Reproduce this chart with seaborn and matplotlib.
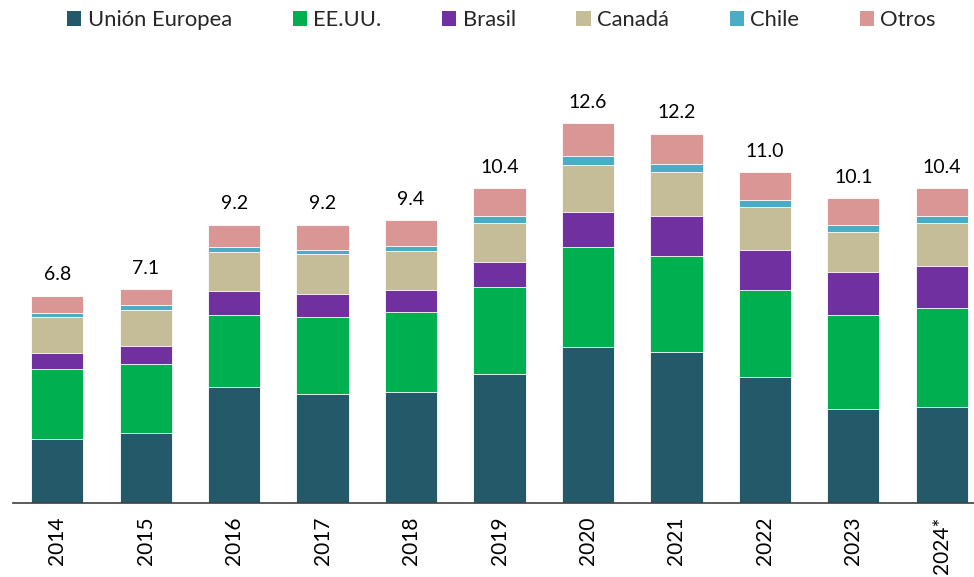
import numpy as np
import seaborn as sns
import matplotlib.pyplot as plt
from matplotlib.patches import Patch

# Data
years = ["2014", "2015", "2016", "2017", "2018", "2019", "2020", "2021", "2022", "2023", "2024*"]
union_europea = [2.09, 2.31, 3.82, 3.60, 3.65, 4.24, 5.16, 4.97, 4.17, 3.11, 3.15]
ee_uu = [2.32, 2.27, 2.38, 2.55, 2.67, 2.89, 3.30, 3.19, 2.87, 3.10, 3.28]
brasil = [0.54, 0.61, 0.80, 0.76, 0.72, 0.84, 1.17, 1.33, 1.33, 1.41, 1.41]
canada = [1.19, 1.19, 1.28, 1.32, 1.29, 1.30, 1.55, 1.46, 1.40, 1.33, 1.41]
chile = [0.13, 0.17, 0.17, 0.14, 0.17, 0.22, 0.30, 0.27, 0.24, 0.25, 0.25]
otros = [0.57, 0.51, 0.74, 0.83, 0.84, 0.91, 1.08, 0.99, 0.92, 0.87, 0.90]
totals = [6.8, 7.1, 9.2, 9.2, 9.4, 10.4, 12.6, 12.2, 11.0, 10.1, 10.4]

series_names = ["Unión Europea", "EE.UU.", "Brasil", "Canadá", "Chile", "Otros"]
series_values = [union_europea, ee_uu, brasil, canada, chile, otros]
colors = ["#235968", "#00B050", "#7030A0", "#C4BD97", "#4BACC6", "#DA9694"]

sns.set_theme(style="white")
plt.rcParams['font.family'] = ['Lato', 'DejaVu Sans']

fig = plt.figure(figsize=(9.74, 5.77), dpi=100)
# axes runs a little past the right edge of the figure (the last bar is cut like in the original)
ax = fig.add_axes([13 / 974, 74.5 / 577, 973 / 974, 442.5 / 577])

# Stacked bars: draw cumulative heights from the top layer down
cum = np.cumsum(np.array(series_values), axis=0)
for i in range(len(series_names) - 1, -1, -1):
    sns.barplot(x=years, y=cum[i], color=colors[i], saturation=1, width=0.59,
                edgecolor="white", linewidth=0.6, errorbar=None, ax=ax)

# Total labels
for i, t in enumerate(totals):
    ax.annotate(f"{t:.1f}", xy=(i, cum[-1][i]), xytext=(0, 9), textcoords="offset points",
                ha="center", va="bottom", fontsize=14, color="black")

ax.set_xlim(-0.5, 10.5)
ax.set_ylim(0, 14.65)
ax.set_yticks([])
ax.set_ylabel("")
ax.set_xlabel("")
for s in ["left", "top", "right"]:
    ax.spines[s].set_visible(False)
ax.spines["bottom"].set_color("#404040")
ax.spines["bottom"].set_linewidth(1.2)

ax.set_xticks(range(len(years)))
ax.set_xticklabels(years, rotation=90, fontsize=15, color="black")
ax.set_xticks(np.arange(-0.5, len(years), 1), minor=True)
ax.tick_params(axis="x", which="major", length=0, pad=10)
ax.tick_params(axis="x", which="minor", length=7, width=1.2, color="#404040", direction="out")

handles = [Patch(facecolor=c, edgecolor="none") for c in colors]
fig.legend(handles, series_names, loc="center", bbox_to_anchor=(0.515, 0.965), ncol=6,
           frameon=False, fontsize=15.8, handlelength=0.64, handleheight=0.64,
           handletextpad=0.3, columnspacing=2.76)

fig.savefig("out.png", dpi=100)
